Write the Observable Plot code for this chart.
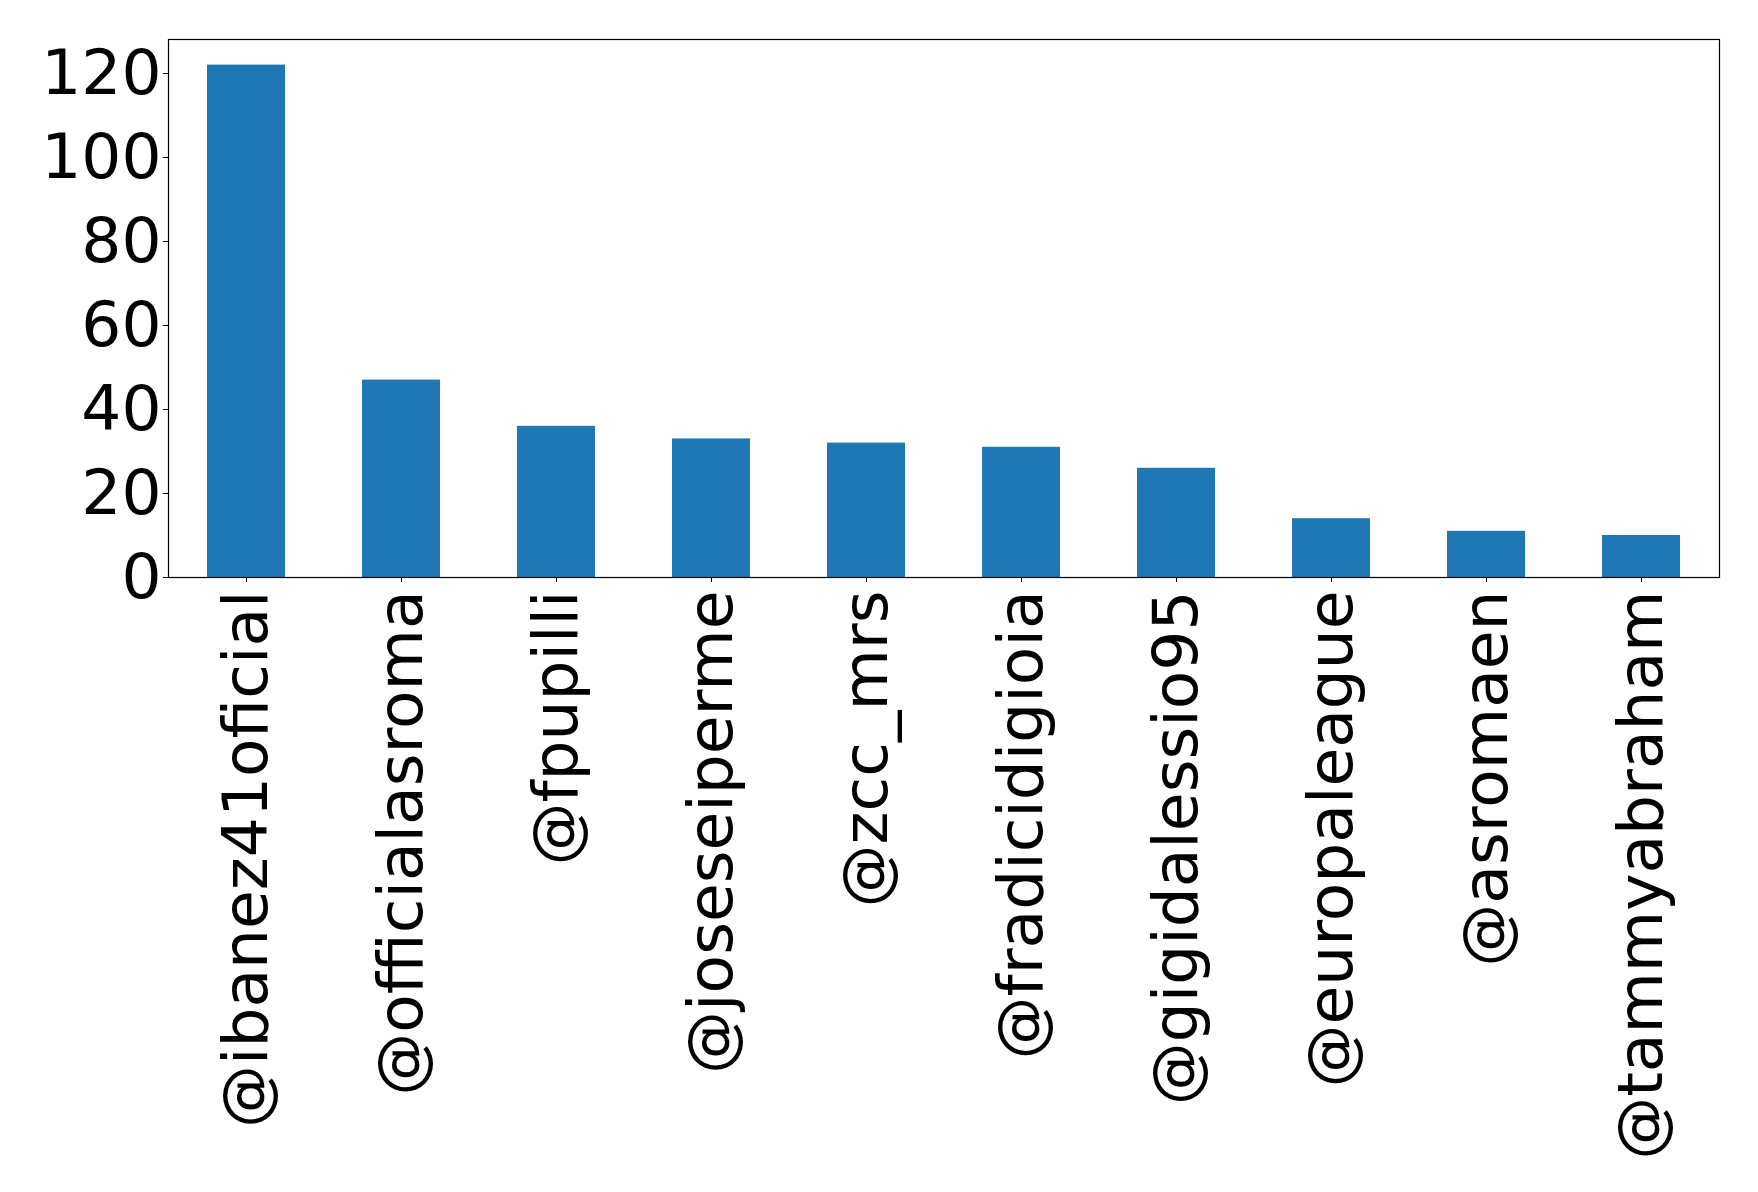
<!DOCTYPE html>
<html><head><meta charset="utf-8">
<script src="https://cdn.jsdelivr.net/npm/d3@7"></script>
<script src="https://cdn.jsdelivr.net/npm/@observablehq/plot@0.6"></script>
<style>body{margin:0;background:#fff}</style>
</head><body><div id="chart"></div>
<script>
const accounts = ["@ibanez41oficial","@officialasroma","@fpupilli","@joseseiperme","@zcc_mrs","@fradicidigioia","@gigidalessio95","@europaleague","@asromaen","@tammyabraham"];
const mentions = [122, 47, 36, 33, 32, 31, 26, 14, 11, 10];
const yTicks = [0, 20, 40, 60, 80, 100, 120];
const data = accounts.map((a, i) => ({account: a, count: mentions[i]}));
const chart = Plot.plot({
  width: 1758, height: 1192,
  marginLeft: 168, marginRight: 39, marginTop: 39, marginBottom: 615,
  style: {fontFamily: "DejaVu Sans", fontSize: "63px", color: "black", background: "white"},
  x: {domain: accounts, paddingInner: 0.5, paddingOuter: 0.25, label: null, tickRotate: -90, tickSize: 5, tickPadding: 8},
  y: {domain: [0, 128.1], ticks: yTicks, label: null, tickSize: 5, tickPadding: 2},
  marks: [
    Plot.barY(data, {x: "account", y: "count", fill: "#1f77b4"}),
    Plot.frame({stroke: "black", strokeWidth: 1.2})
  ]
});
document.getElementById("chart").appendChild(chart);
</script>
</body></html>
